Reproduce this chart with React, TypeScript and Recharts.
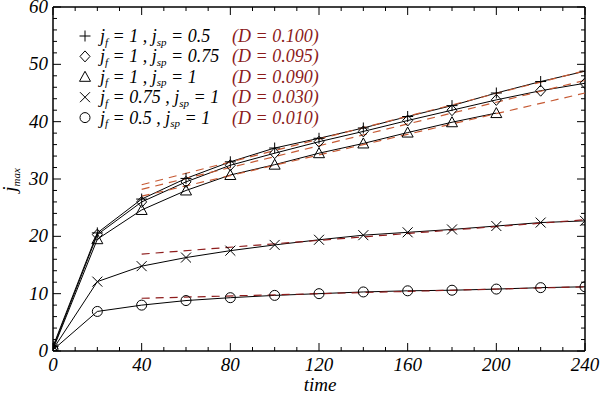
import React from 'react';
import { ComposedChart, Line, XAxis, YAxis, ReferenceLine } from 'recharts';

// ---------- data ----------
const TIMES = [0, 20, 40, 60, 80, 100, 120, 140, 160, 180, 200, 220, 240];
const PLUS = [0.8, 20.6, 26.5, 30.1, 33.0, 35.4, 37.1, 38.9, 40.9, 42.8, 45.0, 47.0, 48.8];
const DIAMOND = [0.5, 20.3, 26.0, 29.5, 32.4, 34.5, 36.5, 38.3, 40.2, 42.0, 43.8, 45.4, 46.7];
const TRIANGLE = [0.3, 19.5, 24.6, 28.0, 30.7, 32.5, 34.5, 36.2, 38.1, 39.9, 41.5, null, null];
const CROSS = [0.3, 12.1, 14.8, 16.3, 17.5, 18.5, 19.4, 20.2, 20.7, 21.2, 21.8, 22.4, 22.7];
const CIRCLE = [0.2, 6.9, 8.0, 8.8, 9.3, 9.7, 10.0, 10.3, 10.5, 10.6, 10.8, 11.05, 11.2];

const FIT_TIMES = [40, 240];
const FIT_PLUS = [29.0, 48.9];
const FIT_DIAMOND = [28.2, 47.2];
const FIT_TRIANGLE = [27.0, 45.0];
const FIT_CROSS = [16.9, 22.9];
const FIT_CIRCLE = [9.2, 11.2];

const SERIES_KEYS = ['plus', 'diamond', 'triangle', 'cross', 'circle'];
const LEGEND_JF = ['1', '1', '1', '0.75', '0.5'];
const LEGEND_JSP = ['0.5', '0.75', '1', '1', '1'];
const LEGEND_D = ['0.100', '0.095', '0.090', '0.030', '0.010'];

const X_TICKS = [0, 10, 20, 30, 40, 50, 60, 70, 80, 90, 100, 110, 120, 130, 140, 150, 160, 170, 180, 190, 200, 210, 220, 230, 240];
const Y_TICKS = [0, 2, 4, 6, 8, 10, 12, 14, 16, 18, 20, 22, 24, 26, 28, 30, 32, 34, 36, 38, 40, 42, 44, 46, 48, 50, 52, 54, 56, 58, 60];

// ---------- layout ----------
const W = 600;
const H = 398;
const M_TOP = 7;
const M_RIGHT = 15;
const Y_W = 53;
const X_H = 47;
const PLOT_W = W - Y_W - M_RIGHT;
const PLOT_H = H - M_TOP - X_H;
const FONT = '"Liberation Serif", "Times New Roman", "DejaVu Serif", serif';
const TXT = { fontFamily: FONT, fontStyle: 'italic' } as const;
const UPPER_FIT = '#c65a34';
const LOWER_FIT = '#8e1c1c';
const D_COLOR = '#8b1a1a';

const table = TIMES.map((t, i) => ({
  t,
  plus: PLUS[i],
  diamond: DIAMOND[i],
  triangle: TRIANGLE[i],
  cross: CROSS[i],
  circle: CIRCLE[i],
}));

const fitData = (vals: number[]) => FIT_TIMES.map((t, i) => ({ t, v: vals[i] }));

function Marker({ kind, cx, cy }: { kind: string; cx: number; cy: number }) {
  const s = { stroke: '#000', strokeWidth: 1, fill: 'none' } as const;
  switch (kind) {
    case 'plus':
      return <path d={`M${cx - 5.5},${cy}H${cx + 5.5}M${cx},${cy - 5.5}V${cy + 5.5}`} {...s} />;
    case 'diamond':
      return <path d={`M${cx},${cy - 5.5}L${cx + 5},${cy}L${cx},${cy + 5.5}L${cx - 5},${cy}Z`} {...s} />;
    case 'triangle':
      return <path d={`M${cx},${cy - 5.5}L${cx + 5.5},${cy + 4.5}L${cx - 5.5},${cy + 4.5}Z`} {...s} />;
    case 'cross':
      return <path d={`M${cx - 5},${cy - 5}L${cx + 5},${cy + 5}M${cx - 5},${cy + 5}L${cx + 5},${cy - 5}`} {...s} />;
    default:
      return <circle cx={cx} cy={cy} r={5} {...s} />;
  }
}

const makeDot = (kind: string) => (p: any) => {
  if (p.cx == null || p.cy == null || p.value == null) return <g key={`${kind}-${p.index}`} />;
  return (
    <g key={`${kind}-${p.index}`}>
      <Marker kind={kind} cx={p.cx} cy={p.cy} />
    </g>
  );
};

function XTick(props: any) {
  const { x, y, payload } = props;
  const v = payload.value;
  const major = v % 40 === 0;
  const len = major ? 8 : 4;
  return (
    <g>
      <line x1={x} y1={y} x2={x} y2={y - len} stroke="#000" strokeWidth={1} />
      <line x1={x} y1={y - PLOT_H} x2={x} y2={y - PLOT_H + len} stroke="#000" strokeWidth={1} />
      {major && (
        <text x={x} y={y + 20} textAnchor="middle" style={TXT} fontSize={19} fill="#000">
          {v}
        </text>
      )}
    </g>
  );
}

function YTick(props: any) {
  const { x, y, payload } = props;
  const v = payload.value;
  const major = v % 10 === 0;
  const len = major ? 8 : 4;
  return (
    <g>
      <line x1={x} y1={y} x2={x + len} y2={y} stroke="#000" strokeWidth={1} />
      <line x1={x + PLOT_W} y1={y} x2={x + PLOT_W - len} y2={y} stroke="#000" strokeWidth={1} />
      {major && (
        <text x={x - 5} y={y + 6} textAnchor="end" style={TXT} fontSize={19} fill="#000">
          {v}
        </text>
      )}
    </g>
  );
}

function Legend() {
  const rowY0 = 36;
  const rowDy = 20.4;
  return (
    <g>
      {SERIES_KEYS.map((k, i) => {
        const cy = rowY0 + i * rowDy;
        return (
          <g key={k}>
            <Marker kind={k} cx={85} cy={cy} />
            <text x={100} y={cy + 6} fill="#000" style={{ ...TXT, whiteSpace: 'pre' }} fontSize={18}>
              <tspan>j</tspan>
              <tspan fontSize={11} dy={3.5}>f</tspan>
              <tspan dy={-3.5}>{` = ${LEGEND_JF[i]} , j`}</tspan>
              <tspan fontSize={11} dy={3.5}>sp</tspan>
              <tspan dy={-3.5}>{` = ${LEGEND_JSP[i]}`}</tspan>
            </text>
            <text x={232} y={cy + 6} fill={D_COLOR} style={{ ...TXT, whiteSpace: 'pre' }} fontSize={18}>
              {`(D = ${LEGEND_D[i]})`}
            </text>
          </g>
        );
      })}
    </g>
  );
}

export default function App() {
  return (
    <div style={{ position: 'absolute', left: 0, top: 0, width: W, height: H, background: '#fff' }}>
      <ComposedChart width={W} height={H} data={table} margin={{ top: M_TOP, right: M_RIGHT, bottom: 0, left: 0 }}>
        <XAxis
          dataKey="t"
          type="number"
          domain={[0, 240]}
          ticks={X_TICKS}
          interval={0}
          allowDataOverflow
          height={X_H}
          tickSize={0}
          tickMargin={0}
          tickLine={false}
          tick={<XTick />}
          axisLine={{ stroke: '#000', strokeWidth: 1.5 }}
        />
        <YAxis
          type="number"
          domain={[0, 60]}
          ticks={Y_TICKS}
          interval={0}
          allowDataOverflow
          width={Y_W}
          tickSize={0}
          tickMargin={0}
          tickLine={false}
          tick={<YTick />}
          axisLine={{ stroke: '#000', strokeWidth: 1.5 }}
        />
        <ReferenceLine y={60} stroke="#000" strokeWidth={1.5} />
        <ReferenceLine x={240} stroke="#000" strokeWidth={1.5} />
        {SERIES_KEYS.map((k) => (
          <Line
            key={k}
            dataKey={k}
            type="linear"
            stroke="#000"
            strokeWidth={1}
            dot={makeDot(k)}
            activeDot={false}
            isAnimationActive={false}
            connectNulls={false}
          />
        ))}
        <Line data={fitData(FIT_PLUS)} dataKey="v" stroke={UPPER_FIT} strokeWidth={1.2} strokeDasharray="8 6" dot={false} activeDot={false} isAnimationActive={false} />
        <Line data={fitData(FIT_DIAMOND)} dataKey="v" stroke={UPPER_FIT} strokeWidth={1.2} strokeDasharray="8 6" dot={false} activeDot={false} isAnimationActive={false} />
        <Line data={fitData(FIT_TRIANGLE)} dataKey="v" stroke={UPPER_FIT} strokeWidth={1.2} strokeDasharray="8 6" dot={false} activeDot={false} isAnimationActive={false} />
        <Line data={fitData(FIT_CROSS)} dataKey="v" stroke={LOWER_FIT} strokeWidth={1.2} strokeDasharray="8 6" dot={false} activeDot={false} isAnimationActive={false} />
        <Line data={fitData(FIT_CIRCLE)} dataKey="v" stroke={LOWER_FIT} strokeWidth={1.2} strokeDasharray="8 6" dot={false} activeDot={false} isAnimationActive={false} />
      </ComposedChart>
      <svg width={W} height={H} style={{ position: 'absolute', left: 0, top: 0, pointerEvents: 'none' }}>
        <Legend />
        <text x={320} y={391} textAnchor="middle" style={TXT} fontSize={19} fill="#000">
          time
        </text>
        <text transform="rotate(-90 16 180)" x={16} y={180} textAnchor="middle" style={TXT} fontSize={19} fill="#000">
          <tspan>j</tspan>
          <tspan fontSize={11} dy={4}>max</tspan>
        </text>
      </svg>
    </div>
  );
}
